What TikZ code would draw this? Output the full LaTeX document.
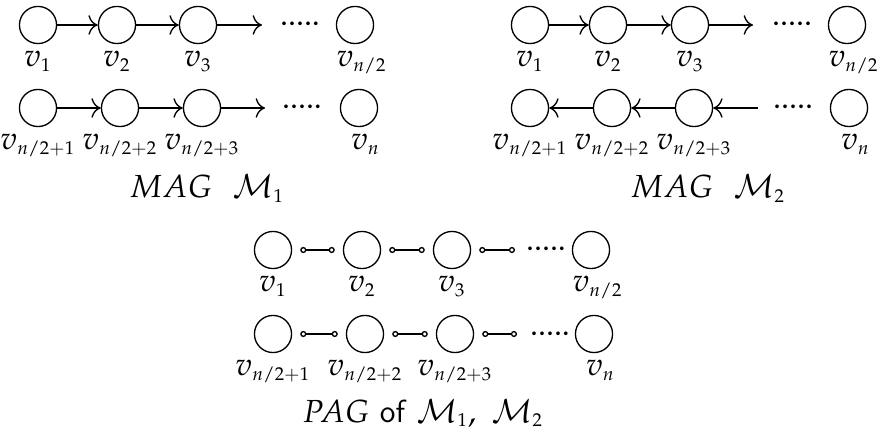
\documentclass[tikz,border=0pt]{standalone}
\usepackage{mathpazo}
\DeclareMathSizes{12}{12}{7}{5}
\usetikzlibrary{arrows.meta}

\begin{document}
\begin{tikzpicture}[x=0.0132cm, y=-0.0132cm, font=\fontsize{12}{14}\selectfont,
    >={To[scale=1.3]},
    vert/.style={draw, circle, line width=0.5pt, minimum size=0.49cm, inner sep=0pt},
    lbl/.style={inner sep=0pt, text height=1ex, text depth=0.6ex, label distance=4pt},
    lblr/.style={lbl, xshift=2.5pt},
    arr/.style={->, line width=0.5pt},
    pagedge/.style={{Circle[open,length=2.3pt]}-{Circle[open,length=2.3pt]},
        line width=0.5pt, shorten <=3pt, shorten >=3pt},
    dots/.style={anchor=base, inner sep=0pt}]

    \useasboundingbox (0,0) rectangle (877,434);

    % ============================================================
    % MAG M1
    % ============================================================
    \node[vert, label={[lbl]below:$v_1$}] (m1v1) at (38,25) {};
    \node[vert, label={[lbl]below:$v_2$}] (m1v2) at (117,25) {};
    \node[vert, label={[lbl]below:$v_3$}] (m1v3) at (198,25) {};
    \coordinate (m1e1) at (262,25);
    \node[dots] (m1d1) at (300,26) {$.....$};
    \node[vert, label={[lblr]below:$v_{n/2}$}] (m1vh) at (355,25) {};
    \draw[arr] (m1v1) -- (m1v2);
    \draw[arr] (m1v2) -- (m1v3);
    \draw[arr] (m1v3) -- (m1e1);

    \node[vert, label={[lbl]below:$v_{n/2+1}$}] (m1w1) at (38,108) {};
    \node[vert, label={[lbl]below:$v_{n/2+2}$}] (m1w2) at (120,108) {};
    \node[vert, label={[lbl]below:$v_{n/2+3}$}] (m1w3) at (202,108) {};
    \coordinate (m1e2) at (265,108);
    \node[dots] (m1d2) at (302,109) {$.....$};
    \node[vert, label={[lblr]below:$v_n$}] (m1wn) at (359,108) {};
    \draw[arr] (m1w1) -- (m1w2);
    \draw[arr] (m1w2) -- (m1w3);
    \draw[arr] (m1w3) -- (m1e2);

    \node[anchor=base] (cap1) at (207,198) {$MAG\ \ \mathcal{M}_1$};

    % ============================================================
    % MAG M2
    % ============================================================
    \node[vert, label={[lbl]below:$v_1$}] (m2v1) at (530,25) {};
    \node[vert, label={[lbl]below:$v_2$}] (m2v2) at (608,25) {};
    \node[vert, label={[lbl]below:$v_3$}] (m2v3) at (690,25) {};
    \coordinate (m2e1) at (753,25);
    \node[dots] (m2d1) at (792,26) {$.....$};
    \node[vert, label={[lblr]below:$v_{n/2}$}] (m2vh) at (847,25) {};
    \draw[arr] (m2v1) -- (m2v2);
    \draw[arr] (m2v2) -- (m2v3);
    \draw[arr] (m2v3) -- (m2e1);

    \node[vert, label={[lbl]below:$v_{n/2+1}$}] (m2w1) at (530,108) {};
    \node[vert, label={[lbl]below:$v_{n/2+2}$}] (m2w2) at (612,108) {};
    \node[vert, label={[lbl]below:$v_{n/2+3}$}] (m2w3) at (694,108) {};
    \coordinate (m2e2) at (758,108);
    \node[dots] (m2d2) at (793,109) {$.....$};
    \node[vert, label={[lblr]below:$v_n$}] (m2wn) at (849,108) {};
    \draw[arr] (m2w2) -- (m2w1);
    \draw[arr] (m2w3) -- (m2w2);
    \draw[arr] (m2e2) -- (m2w3);

    \node[anchor=base] (cap2) at (708,198) {$MAG\ \ \mathcal{M}_2$};

    % ============================================================
    % PAG of M1, M2
    % ============================================================
    \node[vert, label={[lbl]below:$v_1$}] (pv1) at (273,250) {};
    \node[vert, label={[lbl]below:$v_2$}] (pv2) at (362,250) {};
    \node[vert, label={[lbl]below:$v_3$}] (pv3) at (452,250) {};
    \coordinate (pe1) at (523,250);
    \node[dots] (pd1) at (546,251) {$.....$};
    \node[vert, label={[lblr]below:$v_{n/2}$}] (pvh) at (591,250) {};
    \draw[pagedge] (pv1) -- (pv2);
    \draw[pagedge] (pv2) -- (pv3);
    \draw[pagedge] (pv3) -- (pe1);

    \node[vert, label={[lbl]below:$v_{n/2+1}$}] (pw1) at (273,334) {};
    \node[vert, label={[lbl]below:$v_{n/2+2}$}] (pw2) at (365,334) {};
    \node[vert, label={[lbl]below:$v_{n/2+3}$}] (pw3) at (455,334) {};
    \coordinate (pe2) at (525,334);
    \node[dots] (pd2) at (550,335) {$.....$};
    \node[vert, label={[lblr]below:$v_n$}] (pwn) at (594,334) {};
    \draw[pagedge] (pw1) -- (pw2);
    \draw[pagedge] (pw2) -- (pw3);
    \draw[pagedge] (pw3) -- (pe2);

    \node[anchor=base] (cap3) at (423,422) {$PAG$ \textsf{of} $\mathcal{M}_1,\ \mathcal{M}_2$};

\end{tikzpicture}
\end{document}
